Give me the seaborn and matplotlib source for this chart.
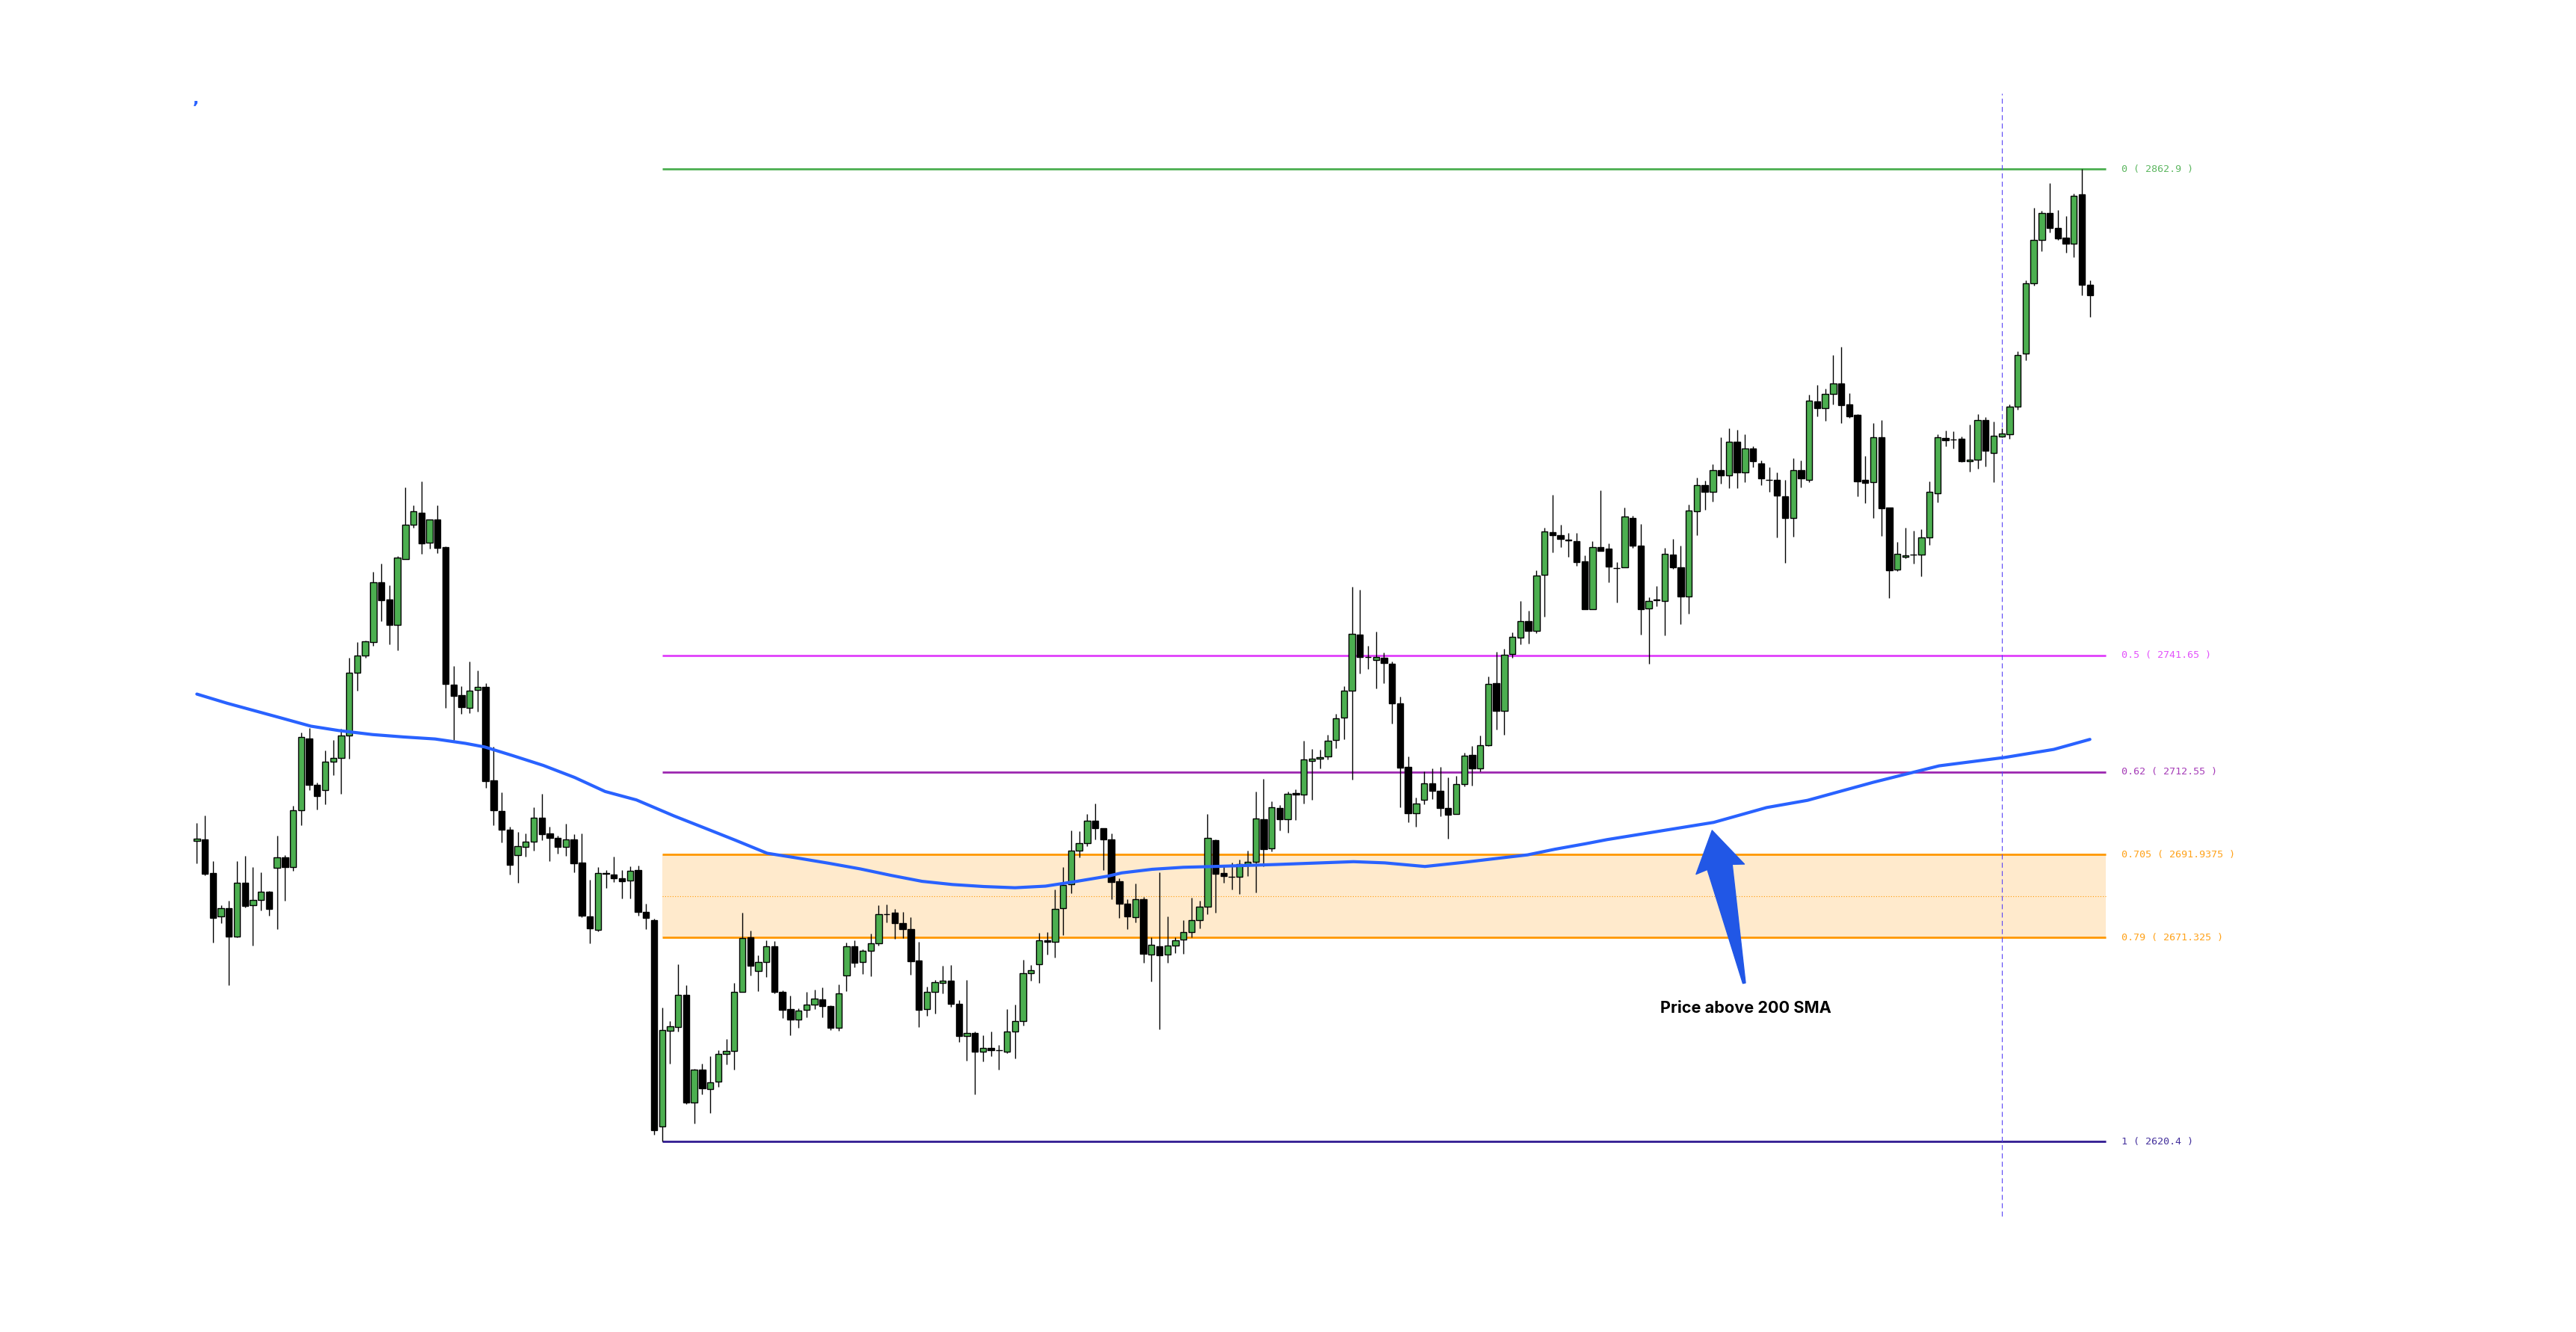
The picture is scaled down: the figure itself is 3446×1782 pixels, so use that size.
import numpy as np
import pandas as pd
import matplotlib
matplotlib.use("Agg")
import matplotlib.pyplot as plt
from matplotlib.patches import Polygon
from matplotlib.transforms import IdentityTransform
import seaborn as sns

# ---------------- data ----------------
opens = [2695.3, 2695.8, 2687.4, 2676.5, 2678.6, 2671.5, 2685.0, 2679.3, 2680.7, 2682.7,
         2688.7, 2691.3, 2688.9, 2703.1, 2721.0, 2709.4, 2708.1, 2715.2, 2716.1, 2721.7,
         2737.4, 2741.6, 2744.9, 2759.8, 2755.5, 2749.3, 2765.7, 2774.3, 2777.3, 2769.8,
         2775.5, 2768.6, 2734.4, 2731.8, 2728.6, 2733.0, 2733.7, 2710.4, 2702.9, 2698.2,
         2691.8, 2693.9, 2695.2, 2701.1, 2697.2, 2696.2, 2693.9, 2695.8, 2690.0, 2676.6,
         2673.2, 2687.3, 2686.9, 2686.0, 2685.5, 2688.1, 2677.6, 2675.6, 2624.2, 2648.1,
         2648.9, 2656.9, 2630.1, 2638.3, 2633.4, 2635.3, 2642.2, 2643.0, 2657.8, 2671.3,
         2662.9, 2665.1, 2669.0, 2657.7, 2653.5, 2650.8, 2653.2, 2654.5, 2655.8, 2654.1,
         2648.7, 2661.8, 2669.0, 2665.1, 2667.9, 2669.9, 2677.1, 2677.4, 2674.8, 2673.3,
         2665.5, 2653.4, 2657.8, 2659.9, 2660.5, 2654.7, 2646.8, 2647.4, 2642.8, 2643.7,
         2643.1, 2642.9, 2647.8, 2650.4, 2662.3, 2664.7, 2670.6, 2670.2, 2678.6, 2684.5,
         2692.9, 2694.8, 2700.4, 2698.5, 2695.8, 2685.3, 2679.7, 2676.4, 2680.8, 2667.0,
         2669.1, 2667.1, 2669.2, 2670.8, 2672.6, 2675.6, 2679.0, 2695.6, 2687.3, 2686.5,
         2686.5, 2689.6, 2690.2, 2700.7, 2693.6, 2703.6, 2700.7, 2707.3, 2707.0, 2715.4,
         2715.9, 2716.5, 2720.6, 2726.1, 2732.8, 2746.8, 2741.2, 2740.4, 2741.0, 2739.6,
         2729.7, 2713.8, 2702.3, 2705.7, 2709.8, 2707.8, 2703.5, 2702.0, 2709.5, 2716.9,
         2713.5, 2719.3, 2734.8, 2727.8, 2742.0, 2746.0, 2750.1, 2747.8, 2761.8, 2772.4,
         2771.7, 2770.5, 2770.2, 2765.1, 2753.2, 2768.7, 2768.3, 2763.5, 2763.6, 2776.0,
         2769.0, 2753.3, 2755.4, 2755.3, 2766.7, 2763.6, 2756.3, 2777.6, 2784.2, 2782.4,
         2787.9, 2786.5, 2795.0, 2787.3, 2793.2, 2789.6, 2785.4, 2785.5, 2781.4, 2776.0,
         2787.8, 2785.4, 2804.9, 2803.3, 2806.8, 2809.4, 2804.2, 2801.7, 2785.4, 2784.8,
         2796.1, 2778.5, 2763.0, 2766.2, 2766.7, 2766.7, 2771.0, 2782.1, 2795.8, 2795.5,
         2795.7, 2790.0, 2790.4, 2800.4, 2792.1, 2796.2, 2796.7, 2803.6, 2816.9, 2834.4,
         2845.2, 2851.9, 2848.2, 2845.8, 2844.3, 2856.6, 2834.1]
highs = [2699.8, 2701.7, 2690.4, 2679.3, 2680.5, 2690.4, 2691.6, 2688.9, 2687.5, 2682.9,
         2696.6, 2691.9, 2704.1, 2722.5, 2723.6, 2709.9, 2718.0, 2720.6, 2723.3, 2741.0,
         2744.9, 2745.4, 2762.5, 2764.6, 2759.1, 2766.4, 2783.5, 2779.1, 2785.0, 2775.6,
         2779.1, 2768.8, 2739.0, 2734.0, 2740.1, 2737.9, 2734.7, 2718.8, 2707.5, 2699.0,
         2697.7, 2697.3, 2703.8, 2707.1, 2699.0, 2696.6, 2699.6, 2697.1, 2697.2, 2685.6,
         2688.9, 2688.2, 2691.4, 2688.2, 2689.1, 2689.2, 2679.8, 2676.0, 2653.8, 2650.5,
         2664.7, 2659.4, 2638.6, 2639.8, 2641.7, 2643.1, 2646.0, 2659.9, 2677.5, 2673.0,
         2666.9, 2670.6, 2670.4, 2658.1, 2656.8, 2653.6, 2657.7, 2658.2, 2658.8, 2654.3,
         2659.6, 2670.1, 2670.6, 2668.4, 2672.2, 2679.4, 2679.5, 2678.4, 2677.6, 2676.3,
         2670.2, 2659.0, 2660.7, 2664.2, 2664.5, 2655.6, 2660.7, 2647.8, 2646.9, 2647.8,
         2644.5, 2653.5, 2654.5, 2665.7, 2664.4, 2672.4, 2672.7, 2683.2, 2688.8, 2698.0,
         2697.8, 2702.1, 2704.7, 2698.6, 2697.2, 2686.1, 2680.9, 2684.7, 2681.4, 2671.4,
         2687.6, 2676.5, 2671.4, 2675.7, 2681.3, 2680.4, 2702.1, 2695.8, 2689.2, 2689.9,
         2690.8, 2693.0, 2707.6, 2710.8, 2705.2, 2704.3, 2707.6, 2708.3, 2720.4, 2718.3,
         2718.2, 2721.9, 2727.1, 2734.0, 2758.7, 2758.0, 2744.0, 2747.5, 2742.3, 2740.2,
         2731.4, 2716.5, 2706.2, 2712.8, 2713.5, 2713.9, 2711.2, 2711.6, 2717.4, 2719.0,
         2721.6, 2736.3, 2742.6, 2743.2, 2747.3, 2755.3, 2752.8, 2762.8, 2773.5, 2781.6,
         2774.2, 2772.1, 2772.1, 2766.6, 2770.2, 2782.9, 2769.6, 2764.9, 2778.5, 2776.5,
         2774.5, 2756.1, 2759.0, 2768.5, 2770.6, 2769.0, 2779.2, 2785.9, 2785.2, 2789.3,
         2796.0, 2798.2, 2797.9, 2796.8, 2793.8, 2790.2, 2788.5, 2787.3, 2785.4, 2790.8,
         2790.3, 2806.7, 2809.1, 2808.1, 2816.6, 2818.6, 2807.1, 2801.8, 2791.4, 2799.6,
         2800.4, 2778.6, 2770.0, 2773.5, 2772.7, 2773.2, 2785.0, 2796.7, 2797.7, 2797.5,
         2796.3, 2799.3, 2801.8, 2801.0, 2800.0, 2798.3, 2804.3, 2817.4, 2835.1, 2853.2,
         2852.6, 2859.5, 2852.7, 2851.3, 2856.8, 2862.9, 2835.1]
lows = [2689.8, 2686.8, 2670.1, 2674.9, 2659.4, 2671.3, 2678.8, 2669.2, 2678.1, 2676.7,
        2673.3, 2680.5, 2688.0, 2699.2, 2708.1, 2703.2, 2704.5, 2711.8, 2707.1, 2715.9,
        2732.8, 2741.1, 2744.1, 2750.1, 2744.4, 2742.9, 2765.7, 2773.4, 2766.9, 2768.3,
        2767.2, 2728.5, 2720.5, 2727.0, 2727.3, 2727.7, 2708.7, 2699.2, 2695.0, 2687.0,
        2685.0, 2691.5, 2693.0, 2695.5, 2690.4, 2692.2, 2691.7, 2687.6, 2676.3, 2669.9,
        2672.9, 2683.6, 2685.2, 2681.0, 2681.0, 2676.7, 2673.3, 2622.1, 2620.4, 2639.9,
        2647.8, 2629.7, 2624.9, 2632.1, 2627.6, 2634.0, 2639.7, 2638.3, 2657.8, 2661.9,
        2658.0, 2661.5, 2657.4, 2651.2, 2647.0, 2648.7, 2651.3, 2653.5, 2651.3, 2648.3,
        2648.1, 2657.9, 2663.9, 2662.2, 2661.7, 2669.2, 2675.1, 2670.9, 2671.1, 2662.0,
        2649.0, 2651.8, 2652.3, 2657.4, 2654.0, 2645.3, 2640.6, 2632.2, 2640.3, 2641.6,
        2638.3, 2642.5, 2641.2, 2649.4, 2660.6, 2660.0, 2667.0, 2666.3, 2671.9, 2682.4,
        2691.3, 2694.0, 2695.7, 2688.2, 2680.9, 2676.1, 2673.4, 2675.0, 2665.0, 2660.4,
        2648.4, 2664.9, 2667.4, 2667.2, 2671.4, 2673.5, 2677.1, 2677.4, 2685.0, 2683.3,
        2682.2, 2686.6, 2682.6, 2689.0, 2692.7, 2697.9, 2697.4, 2700.6, 2704.7, 2705.7,
        2713.5, 2715.7, 2718.5, 2720.7, 2710.7, 2737.1, 2738.3, 2733.5, 2734.7, 2724.7,
        2703.8, 2700.0, 2699.0, 2704.6, 2705.9, 2701.6, 2695.9, 2702.0, 2709.0, 2709.2,
        2712.8, 2719.0, 2723.1, 2721.8, 2741.1, 2744.4, 2744.5, 2747.2, 2751.3, 2767.3,
        2768.7, 2766.3, 2764.0, 2753.1, 2753.2, 2767.8, 2759.9, 2754.9, 2763.6, 2768.5,
        2746.8, 2739.5, 2754.0, 2746.6, 2763.2, 2749.4, 2752.0, 2771.7, 2777.9, 2780.1,
        2784.4, 2783.4, 2783.4, 2784.9, 2788.6, 2784.2, 2782.5, 2771.1, 2764.8, 2771.3,
        2783.6, 2784.9, 2801.2, 2800.2, 2804.2, 2799.6, 2800.8, 2781.4, 2779.6, 2775.9,
        2771.5, 2755.9, 2762.6, 2765.9, 2764.6, 2761.3, 2769.2, 2779.9, 2793.9, 2793.3,
        2789.8, 2787.5, 2788.3, 2788.8, 2784.9, 2796.0, 2795.7, 2802.9, 2815.2, 2833.9,
        2842.4, 2847.2, 2845.2, 2842.0, 2840.9, 2831.4, 2826.0]
closes = [2696.0, 2687.2, 2676.2, 2678.6, 2671.5, 2685.0, 2679.2, 2680.7, 2682.7, 2678.5,
          2691.3, 2688.9, 2703.1, 2721.2, 2709.4, 2706.6, 2715.2, 2716.1, 2721.7, 2737.4,
          2741.6, 2745.2, 2759.8, 2755.4, 2749.3, 2766.0, 2774.3, 2777.5, 2769.6, 2775.6,
          2768.5, 2734.6, 2731.6, 2728.8, 2732.9, 2733.7, 2710.3, 2703.1, 2698.1, 2689.5,
          2694.0, 2695.2, 2701.2, 2697.1, 2696.2, 2693.8, 2695.7, 2689.8, 2676.7, 2673.6,
          2687.3, 2687.2, 2686.1, 2685.4, 2688.0, 2677.7, 2676.2, 2623.3, 2648.3, 2649.1,
          2656.9, 2630.2, 2638.3, 2633.6, 2635.1, 2642.3, 2643.0, 2657.8, 2671.1, 2664.2,
          2665.1, 2669.0, 2657.8, 2653.3, 2650.9, 2653.0, 2654.5, 2656.0, 2654.1, 2648.7,
          2657.3, 2669.0, 2664.9, 2667.9, 2669.9, 2677.2, 2677.1, 2674.8, 2673.3, 2665.4,
          2653.3, 2657.8, 2660.2, 2660.5, 2654.8, 2646.8, 2647.4, 2642.8, 2643.7, 2643.1,
          2643.1, 2647.8, 2650.4, 2662.3, 2663.1, 2670.5, 2670.2, 2678.4, 2684.3, 2692.9,
          2694.9, 2700.5, 2698.5, 2695.7, 2685.2, 2679.8, 2676.5, 2680.8, 2667.2, 2669.5,
          2666.9, 2669.3, 2670.6, 2672.6, 2675.6, 2679.0, 2696.1, 2687.2, 2686.7, 2686.4,
          2689.6, 2690.2, 2700.9, 2693.3, 2703.8, 2700.7, 2707.1, 2707.0, 2715.7, 2715.9,
          2716.3, 2720.4, 2725.9, 2732.9, 2747.1, 2741.2, 2741.2, 2741.2, 2739.7, 2729.7,
          2713.7, 2702.3, 2704.7, 2709.8, 2707.8, 2703.6, 2701.9, 2709.6, 2716.7, 2713.5,
          2719.3, 2734.6, 2727.8, 2741.8, 2746.3, 2750.2, 2747.8, 2761.6, 2772.6, 2771.7,
          2770.6, 2770.4, 2765.0, 2753.2, 2768.7, 2767.8, 2763.8, 2763.5, 2776.3, 2769.0,
          2753.2, 2755.3, 2755.5, 2766.9, 2763.6, 2756.3, 2777.8, 2784.2, 2782.4, 2787.9,
          2786.5, 2795.0, 2787.3, 2793.3, 2790.0, 2785.8, 2785.4, 2781.5, 2776.0, 2787.8,
          2785.8, 2805.1, 2803.3, 2806.8, 2809.4, 2804.0, 2801.2, 2785.0, 2784.6, 2796.1,
          2778.3, 2762.8, 2766.9, 2766.6, 2766.7, 2771.0, 2782.4, 2796.1, 2795.3, 2795.5,
          2790.0, 2790.4, 2800.4, 2792.7, 2796.4, 2796.9, 2803.6, 2816.6, 2834.4, 2845.2,
          2851.9, 2848.2, 2845.6, 2844.3, 2856.3, 2834.1, 2831.4]

# 200 SMA (bar position, value)
sma_pos = [0, 3.8, 10.4, 14.2, 17.7, 21.9, 25.8, 29.7, 33.5, 35.9, 39.3, 43.2, 47.1, 50.9,
           54.8, 59.5, 63.3, 67.2, 71.1, 74.9, 78.8, 82.7, 86.5, 90.4, 94.2, 98.1, 102.0,
           105.8, 109.7, 113.6, 115.3, 119.1, 123.0, 126.8, 134.6, 144.2, 148.1, 153.1,
           157.8, 161.6, 165.9, 169.3, 173.2, 175.8, 189.1, 195.7, 200.8, 209.0, 217.2,
           225.4, 231.5, 236.0]
sma_val = [2732.0, 2729.7, 2726.1, 2724.0, 2722.9, 2721.9, 2721.3, 2720.8, 2719.7, 2718.8,
           2716.7, 2714.2, 2711.2, 2707.7, 2705.6, 2701.6, 2698.6, 2695.5, 2692.3, 2691.1,
           2689.8, 2688.4, 2686.8, 2685.3, 2684.5, 2684.0, 2683.7, 2684.1, 2685.3, 2686.6,
           2687.4, 2688.3, 2688.8, 2689.0, 2689.5, 2690.2, 2689.9, 2689.0, 2690.0, 2690.9,
           2691.9, 2693.3, 2694.7, 2695.7, 2700.0, 2703.7, 2705.5, 2710.0, 2714.1, 2716.2,
           2718.2, 2720.7]

fib_ratios = ["0", "0.5", "0.62", "0.705", "0.79", "1"]
fib_prices = [2862.9, 2741.65, 2712.55, 2691.9375, 2671.325, 2620.4]
fib_colors = ["#4CAF50", "#E040FB", "#9C27B0", "#FF9800", "#FF9800", "#311B92"]
fib_start, fib_end = 58, 238
marker_bar = 225
note_text = "Price above 200 SMA"

# ---------------- figure ----------------
sns.set_theme(style="white")
plt.rcParams["font.family"] = ["DejaVu Sans"]

W, H = 3446, 1782
fig = plt.figure(figsize=(W / 100, H / 100), dpi=100)
fig.patch.set_facecolor("white")
ax = fig.add_axes([0, 0, 1, 1])
ax.set_facecolor("white")
ax.set_xlim(-24.54, 296.6)
ax.set_ylim(2572.9, 2905.1)
ax.axis("off")

df = pd.DataFrame({"o": opens, "h": highs, "l": lows, "c": closes})
df["x"] = np.arange(len(df))
up = df["c"] > df["o"]

# fib zone
ax.fill_between([fib_start, fib_end], fib_prices[4], fib_prices[3],
                color="#FF9800", alpha=0.2, lw=0, zorder=1)
ax.hlines((fib_prices[3] + fib_prices[4]) / 2, fib_start, fib_end, color="#FF9800",
          lw=0.8, linestyles=(0, (1, 2)), zorder=1.5)
for r, p, col in zip(fib_ratios, fib_prices, fib_colors):
    ax.hlines(p, fib_start, fib_end, color=col, lw=2, zorder=2)
    ax.text(239.9, p, f"{r} ( {p} )", color=col, family="DejaVu Sans Mono",
            fontsize=9.6, va="center", ha="left", alpha=0.9)

# candles
ax.vlines(df["x"], df["l"], df["h"], color="black", lw=1.0, zorder=3)
ax.bar(df["x"], (df["c"] - df["o"]).abs(), bottom=df[["o", "c"]].min(axis=1),
       width=0.78, color=np.where(up, "#4CAF50", "#000000"), edgecolor="black",
       linewidth=1.0, zorder=4)

# SMA
sns.lineplot(x=sma_pos, y=sma_val, ax=ax, color="#2962FF", lw=3.0, zorder=5,
             sort=False, legend=False)

# vertical dashed marker
ax.vlines(marker_bar, 2601.8, 2881.8, color="#5B45F5", lw=0.8,
          linestyles=(0, (6, 4)), zorder=2)

# arrow (tapered tail, drawn in pixel space from its tip/tail anchors)
fig.canvas.draw()
tip = ax.transData.transform((188.9, 2698.0))
tail = ax.transData.transform((192.9, 2659.9))
u = (tip - tail) / np.hypot(*(tip - tail))
n = np.array([-u[1], u[0]])
L = np.hypot(*(tip - tail))
shape = [(0, 0), (-53, 33), (-50, 17), (-L, 1.8), (-L, -1.8), (-50, -17), (-53, -33)]
pts = [tip + a * u + b * n for a, b in shape]
ax.add_artist(Polygon(pts, closed=True, transform=IdentityTransform(),
                      facecolor="#2157E6", edgecolor="#2157E6", lw=1,
                      joinstyle="round", zorder=6))

ax.text(193.1, 2653.6, note_text, ha="center", va="center", fontsize=15.6,
        fontweight="bold", family="Inter", color="black")

fig.text(262 / W, 1 - 133 / H, ",", color="#2962FF", fontsize=16, fontweight="bold",
         ha="center", va="center")

fig.savefig("out.png", dpi=100, facecolor="white")
